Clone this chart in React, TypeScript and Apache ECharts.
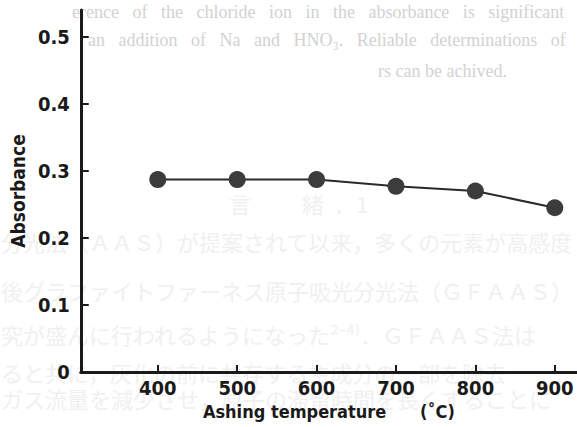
import React, { useEffect, useRef } from "react";
import * as echarts from "echarts";

const temperatures = [400, 500, 600, 700, 800, 900];
const absorbance = [0.287, 0.287, 0.287, 0.277, 0.27, 0.245];
const xTickValues = [400, 500, 600, 700, 800, 900];
const yTickValues = [0, 0.1, 0.2, 0.3, 0.4, 0.5];
const xTitle = "Ashing temperature\u00a0\u00a0\u00a0\u00a0\u00a0\u00a0(˚C)";
const yTitle = "Absorbance";

const bgEnglish = [
  "erence of the chloride ion in the absorbance is significant",
  "an addition of Na and HNO₃. Reliable determinations of",
  "rs can be achived.",
];
const bgEnglishGap = [3, 3, 1];
const bgJapanese = [
  "分光法（ＡＡＳ）が提案されて以来，多くの元素が高感度",
  "後グラファイトファーネス原子吸光分光法（ＧＦＡＡＳ）",
  "究が盛んに行われるようになった²⁻⁴⁾．ＧＦＡＡＳ法は",
  "ると共に，灰化の前に共存する主成分の一部を除去",
  "ガス流量を減少させ，原子の滞留時間を長くすることに",
];
const bgHeading = ["言", "緒", "．", "1"];

const FONT = "'DejaVu Sans Condensed', 'Liberation Sans Narrow', 'DejaVu Sans', sans-serif";

export default function App() {
  const ref = useRef<HTMLDivElement>(null);
  useEffect(() => {
    if (!ref.current) return;
    const chart = echarts.init(ref.current, null, { renderer: "svg" });
    const enPos = [
      [72, 12],
      [88, 40],
      [378, 71],
    ];
    const jpPos = [
      [1, 241],
      [1, 290],
      [1, 334],
      [1, 372],
      [1, 398],
    ];
    const headPos = [240, 313, 345, 362];
    const graphics: any[] = [];
    bgEnglish.forEach((t, i) => {
      graphics.push({
        type: "text",
        x: enPos[i][0],
        y: enPos[i][1],
        z: -10,
        silent: true,
        style: {
          text: t.split(" ").join("\u00a0".repeat(bgEnglishGap[i])),
          fill: "#d2d2d2",
          font: "18px 'Liberation Serif', serif",
          verticalAlign: "middle",
          align: "left",
        },
      });
    });
    bgJapanese.forEach((t, i) => {
      graphics.push({
        type: "text",
        x: jpPos[i][0],
        y: jpPos[i][1],
        z: -10,
        silent: true,
        style: {
          text: t,
          fill: "#f0f0f0",
          font: "22px 'Noto Sans CJK JP', sans-serif",
          verticalAlign: "middle",
          align: "left",
        },
      });
    });
    bgHeading.forEach((t, i) => {
      graphics.push({
        type: "text",
        x: headPos[i],
        y: 203,
        z: -10,
        silent: true,
        style: {
          text: t,
          fill: "#f0f0f0",
          font: "22px 'Noto Sans CJK JP', sans-serif",
          verticalAlign: "middle",
          align: "center",
        },
      });
    });

    chart.setOption({
      animation: false,
      backgroundColor: "#ffffff",
      graphic: graphics,
      grid: { left: 76, right: 0, top: 10, bottom: 55, containLabel: false },
      xAxis: {
        type: "value",
        min: 303,
        max: 928,
        name: xTitle,
        nameLocation: "middle",
        nameGap: 28,
        nameTextStyle: { fontFamily: FONT, fontWeight: "bold", fontSize: 18, color: "#1a1a1a" },
        axisLine: { show: true, lineStyle: { color: "#1a1a1a", width: 3 } },
        axisTick: {
          show: true,
          inside: true,
          length: 7,
          customValues: xTickValues,
          lineStyle: { color: "#1a1a1a", width: 2 },
        },
        axisLabel: {
          customValues: xTickValues,
          margin: 6,
          fontFamily: FONT,
          fontWeight: "bold",
          fontSize: 20,
          color: "#1a1a1a",
        },
        splitLine: { show: false },
      },
      yAxis: {
        type: "value",
        min: 0,
        max: 0.54,
        name: yTitle,
        nameLocation: "middle",
        nameGap: 47,
        nameRotate: 90,
        nameTextStyle: { fontFamily: FONT, fontWeight: "bold", fontSize: 19, color: "#1a1a1a" },
        axisLine: { show: true, lineStyle: { color: "#1a1a1a", width: 3 } },
        axisTick: {
          show: true,
          inside: true,
          length: 8,
          customValues: yTickValues,
          lineStyle: { color: "#1a1a1a", width: 2 },
        },
        axisLabel: {
          customValues: yTickValues,
          margin: 11,
          fontFamily: FONT,
          fontWeight: "bold",
          fontSize: 20,
          color: "#1a1a1a",
          formatter: (v: number) => (v === 0 ? "0" : v.toFixed(1)),
        },
        splitLine: { show: false },
      },
      series: [
        {
          type: "line",
          data: temperatures.map((t, i) => [t, absorbance[i]]),
          symbol: "circle",
          symbolSize: 17,
          itemStyle: { color: "#3c3c3c" },
          lineStyle: { color: "#2a2a2a", width: 2 },
          z: 5,
        },
      ],
    });
    return () => chart.dispose();
  }, []);
  return (
    <div
      ref={ref}
      style={{ position: "absolute", left: 0, top: 0, width: 577, height: 427 }}
    />
  );
}
